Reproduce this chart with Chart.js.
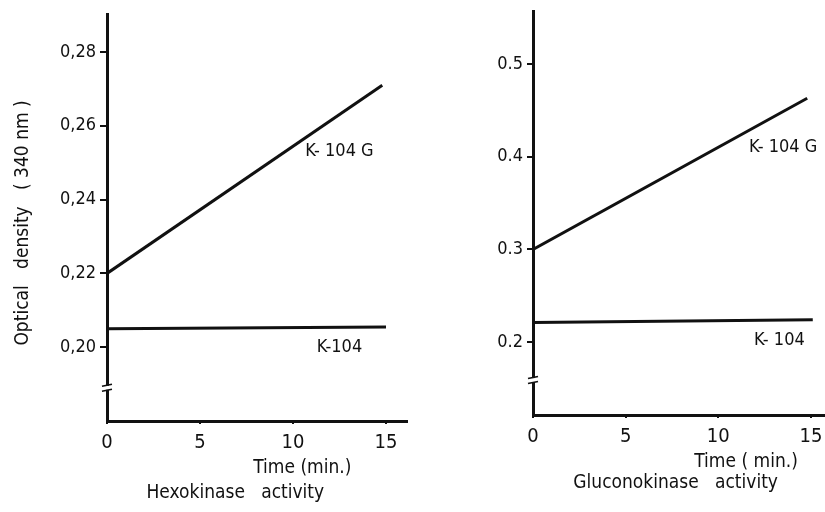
<!DOCTYPE html>
<html>
<head>
<meta charset="utf-8">
<title>Hexokinase / Gluconokinase activity</title>
<script src="https://cdn.jsdelivr.net/npm/chart.js@4.4.1/dist/chart.umd.min.js"></script>
<style>
    html, body { margin: 0; padding: 0; background: #fff; }
    #wrap { position: relative; width: 825px; height: 512px; overflow: hidden; }
    canvas { position: absolute; top: 0; }
    #hexoChart { left: 0; }
    #glucoChart { left: 412px; }
</style>
</head>
<body>
<div id="wrap">
    <canvas id="hexoChart" width="412" height="512"></canvas>
    <canvas id="glucoChart" width="413" height="512"></canvas>
</div>
<script>
// ---- data (time in min, optical density at 340 nm) ----
const timeTicks = [0, 5, 10, 15];

const hexoTimeG = [0, 14.8];
const hexoValG = [0.220, 0.271];
const hexoTime = [0, 15];
const hexoVal = [0.205, 0.2055];
const hexoTicksY = [0.20, 0.22, 0.24, 0.26, 0.28];

const glucoTimeG = [0, 14.8];
const glucoValG = [0.300, 0.463];
const glucoTime = [0, 15.1];
const glucoVal = [0.221, 0.224];
const glucoTicksY = [0.2, 0.3, 0.4, 0.5];

const INK = '#111';
const FONT = '"DejaVu Sans Condensed", "DejaVu Sans", sans-serif';

// draws the curve labels, the axis texts under the chart and the axis break mark
const panelText = {
    id: 'panelText',
    afterDraw(chart, args, opts) {
        const { ctx, chartArea } = chart;
        const x = chart.scales.x, y = chart.scales.y;
        ctx.save();
        ctx.fillStyle = INK;
        ctx.textAlign = 'center';
        ctx.textBaseline = 'middle';

        opts.curveLabels.forEach(l => {
            ctx.font = `${l.size}px ${FONT}`;
            ctx.fillText(l.text, x.getPixelForValue(l.x), y.getPixelForValue(l.y));
        });
        opts.belowLabels.forEach(l => {
            ctx.font = `${l.size}px ${FONT}`;
            ctx.fillText(l.text, x.getPixelForValue(l.x), chartArea.bottom + l.dy);
        });

        // axis break (two short strokes across the y axis)
        const by = y.getPixelForValue(opts.breakAt);
        const bx = chartArea.left;
        ctx.fillStyle = '#fff';
        ctx.fillRect(bx - 3, by - 2, 6, 4);
        ctx.strokeStyle = INK;
        ctx.lineWidth = 1.6;
        [-2.5, 2.5].forEach(d => {
            ctx.beginPath();
            ctx.moveTo(bx - 5, by + d + 1);
            ctx.lineTo(bx + 5, by + d - 1);
            ctx.stroke();
        });
        ctx.restore();
    }
};

function toPoints(xs, ys) {
    return xs.map((t, i) => ({ x: t, y: ys[i] }));
}

function makePanel(canvasId, cfg) {
    const lineStyle = {
        borderColor: INK,
        borderWidth: 3,
        pointRadius: 0,
        tension: 0,
        fill: false
    };

    return new Chart(document.getElementById(canvasId), {
        type: 'line',
        data: {
            datasets: [
                { label: 'K-104 G', data: toPoints(cfg.timeG, cfg.valG), ...lineStyle },
                { label: 'K-104', data: toPoints(cfg.time, cfg.val), ...lineStyle }
            ]
        },
        options: {
            responsive: false,
            animation: false,
            layout: { padding: { top: cfg.top, right: cfg.right, bottom: 0, left: 0 } },
            plugins: {
                legend: { display: false },
                tooltip: { enabled: false },
                panelText: {
                    curveLabels: cfg.curveLabels,
                    belowLabels: cfg.belowLabels,
                    breakAt: cfg.breakAt
                }
            },
            scales: {
                x: {
                    type: 'linear',
                    min: 0,
                    max: cfg.xMax,
                    afterBuildTicks: s => { s.ticks = timeTicks.map(v => ({ value: v })); },
                    afterFit: s => { s.height = cfg.xAxisH; s.paddingLeft = 0; s.paddingRight = 0; },
                    border: { display: true, color: INK, width: 3 },
                    grid: { display: true, drawOnChartArea: false, color: INK, lineWidth: 2, tickLength: 3 },
                    ticks: { color: INK, font: { family: FONT, size: 20 }, padding: 7, maxRotation: 0 }
                },
                y: {
                    type: 'linear',
                    min: cfg.yMin,
                    max: cfg.yMax,
                    afterBuildTicks: s => { s.ticks = cfg.ticksY.map(v => ({ value: v })); },
                    afterFit: s => { s.width = cfg.yAxisW; s.paddingTop = 0; s.paddingBottom = 0; },
                    border: { display: true, color: INK, width: 3 },
                    grid: { display: true, drawOnChartArea: false, color: INK, lineWidth: 2, tickLength: cfg.tickLen },
                    ticks: {
                        color: INK,
                        font: { family: FONT, size: 18 },
                        padding: 4,
                        callback: cfg.fmt
                    },
                    title: cfg.yTitle
                }
            }
        },
        plugins: [panelText]
    });
}

makePanel('hexoChart', {
    timeG: hexoTimeG, valG: hexoValG, time: hexoTime, val: hexoVal,
    ticksY: hexoTicksY,
    fmt: v => v.toFixed(2).replace('.', ','),
    xMax: 16.13, yMin: 0.18, yMax: 0.2903,
    top: 14, right: 5, xAxisH: 91, yAxisW: 107, tickLen: 7,
    breakAt: 0.189,
    yTitle: {
        display: true,
        text: 'Optical   density   ( 340 nm )  ',
        color: INK,
        font: { family: FONT, size: 19 },
        padding: { top: 12, bottom: 0 }
    },
    curveLabels: [
        { text: 'K- 104 G', x: 12.5, y: 0.253, size: 18 },
        { text: 'K-104', x: 12.5, y: 0.200, size: 18 }
    ],
    belowLabels: [
        { text: 'Time (min.)', x: 10.5, dy: 47, size: 19 },
        { text: 'Hexokinase   activity', x: 6.9, dy: 72, size: 19 }
    ]
});

makePanel('glucoChart', {
    timeG: glucoTimeG, valG: glucoValG, time: glucoTime, val: glucoVal,
    ticksY: glucoTicksY,
    fmt: v => v.toFixed(1),
    xMax: 15.76, yMin: 0.1213, yMax: 0.5572,
    top: 11, right: 0, xAxisH: 97, yAxisW: 121, tickLen: 6,
    breakAt: 0.159,
    yTitle: { display: false },
    curveLabels: [
        { text: 'K- 104 G', x: 13.5, y: 0.4105, size: 18 },
        { text: 'K- 104', x: 13.3, y: 0.202, size: 18 }
    ],
    belowLabels: [
        { text: 'Time ( min.)', x: 11.5, dy: 47, size: 19 },
        { text: 'Gluconokinase   activity', x: 7.7, dy: 68, size: 19 }
    ]
});
</script>
</body>
</html>
